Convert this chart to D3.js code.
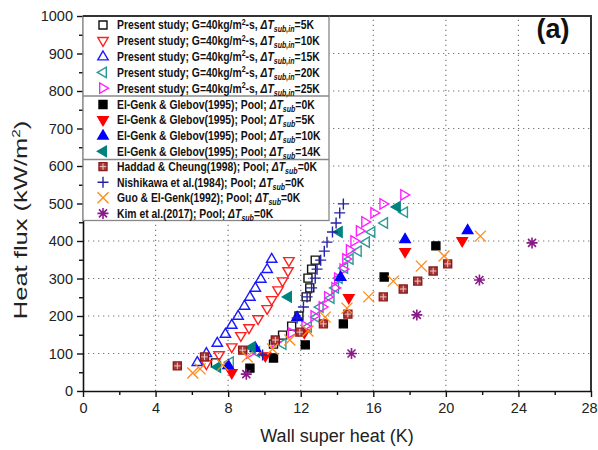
<!DOCTYPE html>
<meta charset="utf-8">
<script src="https://d3js.org/d3.v7.min.js"></script>
<style>
  body { margin: 0; background: #fff; }
  text { font-family: "Liberation Sans", Arial, sans-serif; }
</style>
<body>
<div id="chart"></div>
<script>

// ---- data (wall superheat K, heat flux kW/m2) ----
var present5K  = [[7.3,75],[10.5,125],[11.0,149],[11.5,173],[11.9,200],[12.3,251],[12.5,275],[12.4,301],[12.6,325],[12.8,349]]
var present10K = [[6.8,72],[7.5,96],[8.2,117],[8.7,147],[9.15,168],[9.65,192],[10.15,219],[10.4,243],[10.75,269],[11.0,293],[11.3,320],[11.35,347]]
var present15K = [[6.3,77],[6.8,101],[7.4,128],[7.85,152],[8.2,176],[8.55,200],[8.9,227],[9.2,251],[9.5,275],[9.8,299],[10.15,325],[10.4,352]]
var present20K = [[8.1,77],[9.55,104],[11.0,125],[12.4,171],[12.85,197],[13.05,224],[13.65,248],[13.9,275],[14.1,301],[14.4,328],[14.7,352],[15.15,373],[15.6,397],[15.9,424],[16.6,448],[17.7,477]]
var present25K = [[9.2,101],[10.6,131],[11.5,155],[12.25,173],[12.75,200],[13.2,224],[13.5,251],[13.9,275],[14.05,301],[14.35,325],[14.5,352],[14.7,376],[14.95,400],[15.25,427],[15.55,451],[16.05,475],[16.55,499],[17.7,523]]
var elGenk0K   = [[9.2,61],[10.5,88],[12.25,123],[14.35,179],[16.6,304],[19.45,387]]
var elGenk5K   = [[8.2,48],[10.05,93],[12.2,155],[14.65,248],[17.75,371],[20.9,400]]
var elGenk10K  = [[8.0,69],[9.5,115],[11.8,197],[14.2,304],[17.75,405],[21.2,429]]
var elGenk14K  = [[7.4,64],[9.3,117],[11.3,251],[14.1,424],[17.3,491]]
var haddad     = [[5.2,67],[6.7,91],[8.8,109],[10.6,136],[11.95,157],[13.25,179],[14.6,205],[16.55,251],[17.65,272],[18.45,293],[19.3,320],[20.1,339]]
var nishikawa  = [[9.9,96],[11.8,195],[12.15,224],[12.35,251],[12.6,275],[12.8,301],[12.9,325],[13.1,349],[13.3,373],[13.45,397],[13.75,424],[13.95,448],[14.15,475],[14.35,499]]
var guo        = [[6.05,48],[6.45,59],[7.7,69],[9.05,91],[10.45,112],[11.4,136],[12.4,160],[13.35,197],[14.55,221],[15.75,251],[17.1,293],[18.65,333],[19.9,360],[21.9,413]]
var kim        = [[9.0,45],[14.8,100],[18.4,203],[21.85,296],[24.75,395]]

var xTicks = [0, 4, 8, 12, 16, 20, 24, 28]
var yTicks = [0, 100, 200, 300, 400, 500, 600, 700, 800, 900, 1000]

var presentSub = ["5K", "10K", "15K", "20K", "25K"]
var elGenkSub  = ["0K", "5K", "10K", "14K"]
var otherNames = ["Haddad & Cheung(1998); Pool; ", "Nishikawa et al.(1984); Pool; ",
                  "Guo & El-Genk(1992); Pool; ", "Kim et al.(2017); Pool; "]

var series = [
  {data: present5K,  shape: "square", color: "#111",    fill: "none"},
  {data: present10K, shape: "down",   color: "#ff2020", fill: "none"},
  {data: present15K, shape: "up",     color: "#1a1aff", fill: "none"},
  {data: present20K, shape: "left",   color: "#2a9a96", fill: "none"},
  {data: present25K, shape: "right",  color: "#ff20ff", fill: "none"},
  {data: elGenk0K,   shape: "square", color: "#000",    fill: "#000"},
  {data: elGenk5K,   shape: "down",   color: "#ff0000", fill: "#ff0000"},
  {data: elGenk10K,  shape: "up",     color: "#0000ff", fill: "#0000ff"},
  {data: elGenk14K,  shape: "left",   color: "#00827f", fill: "#00827f"},
  {data: haddad,     shape: "boxplus",color: "#8b1c1c", fill: "#a83a3a"},
  {data: nishikawa,  shape: "plus",   color: "#2323a8", fill: "none"},
  {data: guo,        shape: "cross",  color: "#ff8c1a", fill: "none"},
  {data: kim,        shape: "star",   color: "#8a1a8a", fill: "none"}
]

var width = 598, height = 450

var x = d3.scaleLinear().domain([0, 28]).range([83, 591])
var y = d3.scaleLinear().domain([0, 1000]).range([391, 16])

var svg = d3.select("#chart")
  .append("svg")
    .attr("width", width)
    .attr("height", height)

// dotted grid at the major ticks
svg.append("g").selectAll("line")
  .data(xTicks.slice(1, -1))
  .enter().append("line")
    .attr("x1", function(d){ return x(d) }).attr("x2", function(d){ return x(d) })
    .attr("y1", y(0)).attr("y2", y(1000))
    .attr("stroke", "#777").attr("stroke-width", 1.2)
    .attr("stroke-dasharray", "1.3,3.7")
svg.append("g").selectAll("line")
  .data(yTicks.slice(1, -1))
  .enter().append("line")
    .attr("x1", x(0)).attr("x2", x(28))
    .attr("y1", function(d){ return y(d) }).attr("y2", function(d){ return y(d) })
    .attr("stroke", "#777").attr("stroke-width", 1.2)
    .attr("stroke-dasharray", "1.3,3.7")

// marker shapes, centred on 0,0
function shapePath(shape) {
  var t = "M0,-5.6L5.2,3.3L-5.2,3.3Z"
  switch (shape) {
    case "square": return "M-4,-4h8v8h-8Z"
    case "up": case "down": case "left": case "right": return t
    case "boxplus": return "M-4,-4h8v8h-8Z"
    case "plus": return "M-5.5,0H5.5M0,-5.5V5.5"
    case "cross": return "M-5.5,-5.5L5.5,5.5M-5.5,5.5L5.5,-5.5"
    case "star": return "M-5.5,0H5.5M0,-5.5V5.5M-4,-4L4,4M-4,4L4,-4"
  }
}
var rot = {up: 0, down: 180, left: -90, right: 90}

function drawMarker(g, s, px, py) {
  var m = g.append("g")
    .attr("transform", "translate(" + px + "," + py + ")" + (rot[s.shape] !== undefined ? " rotate(" + rot[s.shape] + ")" : ""))
  m.append("path")
    .attr("d", shapePath(s.shape))
    .attr("fill", s.fill)
    .attr("stroke", s.color)
    .attr("stroke-width", s.shape === "star" ? 1.6 : 1.4)
  if (s.shape === "boxplus") {
    m.append("path").attr("d", "M-3.3,0H3.3M0,-3.3V3.3")
      .attr("stroke", "#f0c8c8").attr("stroke-width", 1)
  }
  if (s.shape === "star") {
    m.append("circle").attr("r", 1.8).attr("fill", s.color)
  }
}

var pts = svg.append("g")
series.forEach(function(s) {
  s.data.forEach(function(d) {
    drawMarker(pts, s, x(d[0]), y(d[1]))
  })
})

// axes
var xAxis = svg.append("g")
  .attr("transform", "translate(0," + y(0) + ")")
  .call(d3.axisBottom(x).tickValues(xTicks).tickSize(6).tickSizeOuter(0).tickPadding(6).tickFormat(d3.format("d")))
xAxis.selectAll(".tick text").filter(function(d){ return d === 28 }).attr("dx", -2)
var xMinor = svg.append("g")
  .attr("transform", "translate(0," + y(0) + ")")
  .call(d3.axisBottom(x).tickValues([2, 6, 10, 14, 18, 22, 26]).tickSize(4).tickFormat(""))
xMinor.select(".domain").remove()

var yAxis = svg.append("g")
  .attr("transform", "translate(" + x(0) + ",0)")
  .call(d3.axisLeft(y).tickValues(yTicks).tickSize(6).tickSizeOuter(0).tickPadding(4).tickFormat(d3.format("d")))
var yMinor = svg.append("g")
  .attr("transform", "translate(" + x(0) + ",0)")
  .call(d3.axisLeft(y).tickValues(d3.range(50, 1000, 100)).tickSize(4).tickFormat(""))
yMinor.select(".domain").remove()

svg.selectAll(".domain").attr("stroke", "#111").attr("stroke-width", 1.6)
svg.selectAll(".tick line").attr("stroke", "#111").attr("stroke-width", 1.4)
svg.selectAll(".tick text")
  .attr("font-size", 14.5)
  .attr("fill", "#222")
  .style("font-family", "'Liberation Sans', Arial, sans-serif")

// top and right frame
svg.append("path")
  .attr("d", "M" + x(0) + "," + y(1000) + "H" + x(28) + "V" + y(0))
  .attr("fill", "none").attr("stroke", "#333").attr("stroke-width", 2)

// axis titles
svg.append("text")
  .attr("x", 337).attr("y", 442)
  .attr("text-anchor", "middle")
  .attr("font-size", 18).attr("fill", "#222")
  .text("Wall super heat (K)")

var yt = svg.append("text")
  .attr("transform", "translate(27,220) rotate(-90) scale(1.38,1)")
  .attr("text-anchor", "middle")
  .attr("font-size", 18.5).attr("fill", "#222")
yt.append("tspan").text("Heat flux (kW/m")
yt.append("tspan").attr("font-size", 11).attr("dy", -7).text("2")
yt.append("tspan").attr("dy", 7).text(")")

svg.append("text")
  .attr("x", 553).attr("y", 38)
  .attr("text-anchor", "middle")
  .attr("font-size", 27).attr("font-weight", "bold").attr("fill", "#111")
  .text("(a)")

// legend
var leg = svg.append("g")
leg.append("rect")
  .attr("x", x(0)).attr("y", y(1000))
  .attr("width", 329 - x(0)).attr("height", 220.5 - y(1000))
  .attr("fill", "#fff").attr("stroke", "#888").attr("stroke-width", 1.3)
leg.append("line").attr("x1", x(0)).attr("x2", 329).attr("y1", 96).attr("y2", 96)
  .attr("stroke", "#888").attr("stroke-width", 1.3)
leg.append("line").attr("x1", x(0)).attr("x2", 329).attr("y1", 159.5).attr("y2", 159.5)
  .attr("stroke", "#888").attr("stroke-width", 1.3)
leg.append("path")
  .attr("d", "M" + x(0) + "," + y(1000) + "H329")
  .attr("stroke", "#333").attr("stroke-width", 2)

var rowsY = [25, 40.8, 56.6, 72.4, 88.2, 104.5, 120.1, 135.7, 151.3, 166.6, 182.2, 197.8, 213.4]

function legendText(py) {
  return leg.append("text")
    .attr("transform", "translate(117," + (py + 4.3) + ") scale(0.83,1)")
    .attr("font-size", 12.5).attr("font-weight", "bold").attr("fill", "#111")
}
function deltaT(t, sub, rest) {
  t.append("tspan").attr("font-style", "italic").text("\u0394T")
  t.append("tspan").attr("font-style", "italic").attr("font-size", 8.5).attr("dy", 3).text(sub)
  t.append("tspan").attr("dy", -3).text(rest)
}

series.forEach(function(s, i) {
  var py = rowsY[i]
  drawMarker(leg, s, 103, py)
  var t = legendText(py)
  if (i < 5) {
    t.append("tspan").text("Present study; G=40kg/m")
    t.append("tspan").attr("font-size", 8.5).attr("dy", -4.5).text("2")
    t.append("tspan").attr("dy", 4.5).text("-s, ")
    deltaT(t, "sub,in", "=" + presentSub[i])
  } else if (i < 9) {
    t.append("tspan").text("El-Genk & Glebov(1995); Pool; ")
    deltaT(t, "sub", "=" + elGenkSub[i - 5])
  } else {
    t.append("tspan").text(otherNames[i - 9])
    deltaT(t, "sub", "=0K")
  }
})

</script>
</body>
